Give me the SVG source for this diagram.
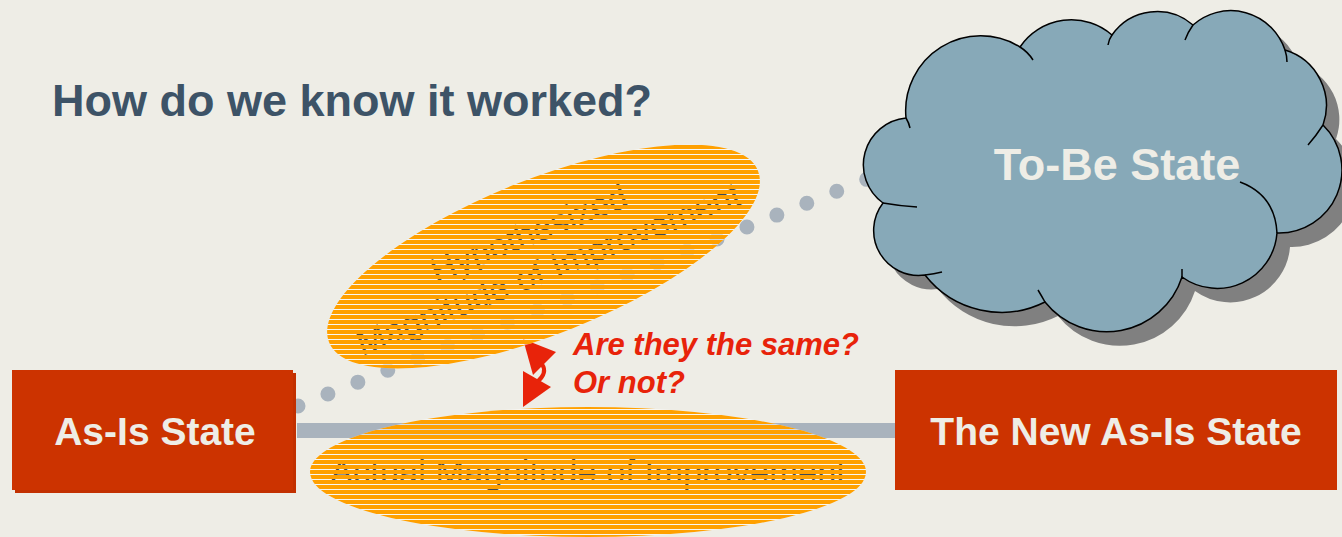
<svg xmlns="http://www.w3.org/2000/svg" width="1342" height="537" viewBox="0 0 1342 537">
<defs>
<style>
.bg{fill:#eeede6}
.box{fill:#cc3300}
.boxtxt{font-family:"Liberation Sans",Arial,sans-serif;font-weight:bold;font-size:39px;fill:#eeede6;text-anchor:middle}
.ovtxt{font-family:"Liberation Sans",Arial,sans-serif;font-size:34.5px;fill:#3e4a58;text-anchor:middle}
.q{font-family:"Liberation Sans",Arial,sans-serif;font-weight:bold;font-style:italic;font-size:31px;fill:#e8230a}
.tick{fill:none;stroke:#000;stroke-width:1.5}
.base{fill:#ffffff;fill-opacity:0.55}
.stripe{fill:url(#stripes)}
</style>
<pattern id="stripes" patternUnits="userSpaceOnUse" x="0" y="0" width="20" height="5">
<rect width="20" height="4" fill="#ffa000" shape-rendering="crispEdges"/>
</pattern>
</defs>
<rect class="bg" x="0" y="0" width="1342" height="537"/>

<g id="title">
<text x="52" y="116" font-family="'Liberation Sans',Arial,sans-serif" font-weight="bold" font-size="45" fill="#3d5367">How do we know it worked?</text>
</g>

<g id="connectors">
<path d="M298,406 L870,178" fill="none" stroke="#a9b3bd" stroke-width="15" stroke-linecap="round" stroke-dasharray="0 32.22"/>
<rect x="297" y="423" width="598" height="15" fill="#a9b3bd"/>
<path d="M542,364 Q548,373 537,382" fill="none" stroke="#e8230a" stroke-width="4"/>
<polygon points="523,339 556,352 533,375" fill="#e8230a"/>
<polygon points="523,407 523,371 551,387" fill="#e8230a"/>
</g>

<g id="to-be-state">
<path transform="translate(13,14)" fill="#808080" d="M883,203 A47,47 0 0 1 906,118 A75,75 0 0 1 1020,47 A62,62 0 0 1 1112,35 A55,55 0 0 1 1193,25 A57,57 0 0 1 1285,50 A58,58 0 0 1 1323,125 A63,63 0 0 1 1277,233 A60,60 0 0 1 1182,277 A79,79 0 0 1 1045,302 A97,97 0 0 1 925,275 A45,45 0 0 1 883,203 Z"/>
<path fill="#87a9b8" stroke="#000" stroke-width="1.5" d="M883,203 A47,47 0 0 1 906,118 A75,75 0 0 1 1020,47 A62,62 0 0 1 1112,35 A55,55 0 0 1 1193,25 A57,57 0 0 1 1285,50 A58,58 0 0 1 1323,125 A63,63 0 0 1 1277,233 A60,60 0 0 1 1182,277 A79,79 0 0 1 1045,302 A97,97 0 0 1 925,275 A45,45 0 0 1 883,203 Z"/>
<path class="tick" d="M906,118 Q909,123 910,128"/>
<path class="tick" d="M1020,47 Q1028,52 1033,60"/>
<path class="tick" d="M1112,35 Q1109,39 1108,45"/>
<path class="tick" d="M1193,25 Q1188,32 1185,40"/>
<path class="tick" d="M1285,50 Q1287,56 1287,62"/>
<path class="tick" d="M1323,125 Q1316,136 1308,145"/>
<path class="tick" d="M1277,233 Q1275,195 1240,182"/>
<path class="tick" d="M1182,277 L1182,269"/>
<path class="tick" d="M1045,302 Q1041,295 1038,290"/>
<path class="tick" d="M925,275 Q934,274 942,272"/>
<path class="tick" d="M883,203 Q900,206 917,207"/>
<text x="1117" y="180" font-family="'Liberation Sans',Arial,sans-serif" font-weight="bold" font-size="45" fill="#eeede6" text-anchor="middle">To-Be State</text>
</g>

<g id="as-is-state">
<rect x="15" y="373" width="281" height="120" fill="#c23000"/>
<rect class="box" x="12" y="370" width="281" height="120"/>
<text class="boxtxt" x="155" y="445">As-Is State</text>
</g>

<g id="new-as-is-state">
<rect class="box" x="895" y="370" width="442" height="120"/>
<text class="boxtxt" x="1116" y="445">The New As-Is State</text>
</g>

<g id="hypothesized-magnitude">
<path class="base" d="M329,342.3 A231,77.5 -21.8 1 1 758,170.7 A231,77.5 -21.8 1 1 329,342.3 Z"/>
<g transform="translate(543.5,256.5) rotate(-21.8)">
<text class="ovtxt" x="-5" y="-15">Hypothesized</text>
<text class="ovtxt" x="0" y="25">Magnitude of Improvement</text>
</g>
<path class="stripe" d="M329,342.3 A231,77.5 -21.8 1 1 758,170.7 A231,77.5 -21.8 1 1 329,342.3 Z"/>
</g>

<g id="actual-magnitude">
<ellipse class="base" cx="588" cy="472" rx="278" ry="65"/>
<text class="ovtxt" x="588" y="484">Actual Magnitude of Improvement</text>
<ellipse class="stripe" cx="588" cy="472" rx="278" ry="65"/>
</g>

<g id="question">
<text class="q" x="573" y="355">Are they the same?</text>
<text class="q" x="573" y="393">Or not?</text>
</g>
</svg>
